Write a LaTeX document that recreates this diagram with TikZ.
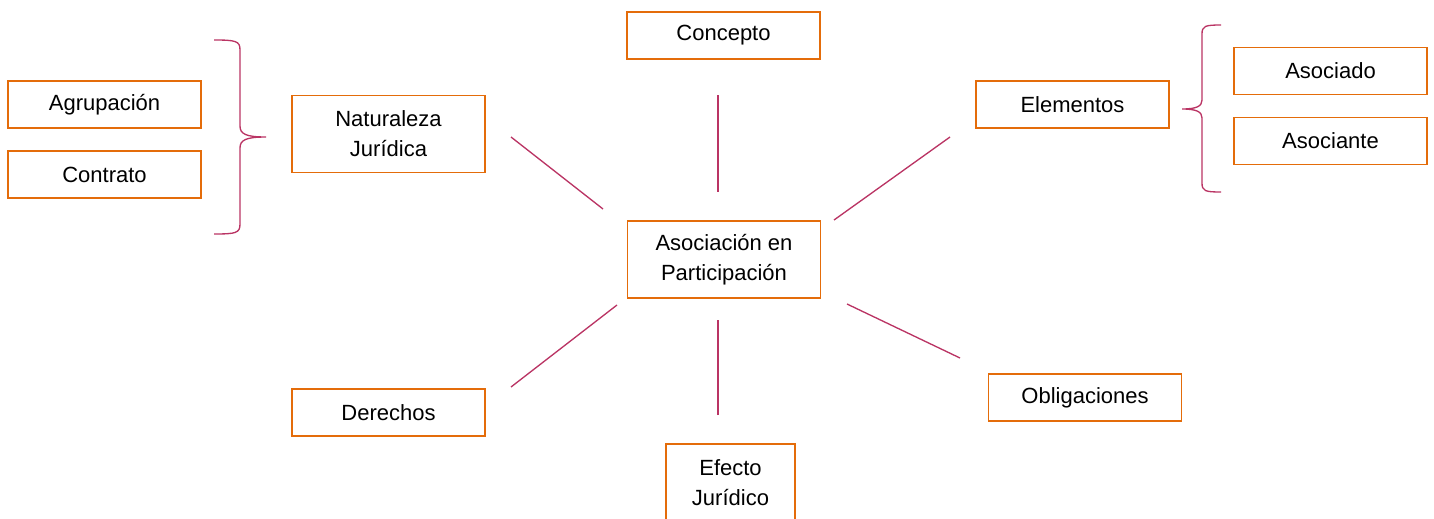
\documentclass[tikz,border=0pt]{standalone}
\usepackage{fontspec}
\setmainfont{Liberation Sans}
\definecolor{boxorange}{RGB}{228,108,10}
\definecolor{linkred}{RGB}{186,52,100}
\tikzstyle{conceptbox}=[draw=boxorange,line width=1.2pt,align=center,minimum width=144.75pt,minimum height=35.25pt,inner sep=0pt,font=\fontsize{16.5}{22.5}\selectfont]
\tikzstyle{tallbox}=[conceptbox,minimum height=57.75pt]
\tikzstyle{link}=[draw=linkred,line width=1pt]
\tikzstyle{bracket}=[draw=linkred,line width=1pt]

\begin{document}
\begin{tikzpicture}[x=0.75pt,y=-0.75pt]
    \clip (0,0) rectangle (1434,518);
    \useasboundingbox (0,0) rectangle (1434,518);

    % Central box and the boxes around it
    \node[tallbox] (asoc) at (724,259.5) {Asociación en\\Participación};
    \node[conceptbox] (concepto) at (723.5,35.5) {Concepto};
    \node[tallbox] (naturaleza) at (388.5,134) {Naturaleza\\Jurídica};
    \node[conceptbox] (elementos) at (1072.5,104.5) {Elementos};
    \node[conceptbox] (derechos) at (388.5,412.5) {Derechos};
    \node[conceptbox] (obligaciones) at (1085,397.5) {Obligaciones};
    \node[tallbox,minimum width=96.75pt] (efecto) at (730.5,482.5) {Efecto\\Jurídico};

    % Boxes behind the braces
    \node[conceptbox] (agrupacion) at (104.5,104.5) {Agrupación};
    \node[conceptbox] (contrato) at (104.5,174.5) {Contrato};
    \node[conceptbox] (asociado) at (1330.5,71) {Asociado};
    \node[conceptbox] (asociante) at (1330.5,141) {Asociante};

    % Loose ends of the spokes
    \coordinate (naturalezaA) at (511,137);
    \coordinate (naturalezaB) at (603,209);
    \coordinate (conceptoA) at (718,95);
    \coordinate (conceptoB) at (718,192);
    \coordinate (elementosA) at (950,137);
    \coordinate (elementosB) at (834,220);
    \coordinate (derechosA) at (511,387);
    \coordinate (derechosB) at (617,305);
    \coordinate (efectoA) at (718,415);
    \coordinate (efectoB) at (718,320);
    \coordinate (obligacionesA) at (960,358);
    \coordinate (obligacionesB) at (847,304);

    \draw[link] (naturalezaA) -- (naturalezaB);
    \draw[link] (conceptoA) -- (conceptoB);
    \draw[link] (elementosA) -- (elementosB);
    \draw[link] (derechosA) -- (derechosB);
    \draw[link] (efectoA) -- (efectoB);
    \draw[link] (obligacionesA) -- (obligacionesB);

    % Braces
    \draw[bracket] (214,40) .. controls (236,40) and (240,41) .. (240,50)
        -- (240,126) .. controls (240,134) and (246,137) .. (266,137)
        .. controls (246,137) and (240,140) .. (240,148)
        -- (240,224) .. controls (240,233) and (236,234) .. (214,234);
    \draw[bracket] (1221,25) .. controls (1205,25) and (1202,26) .. (1202,34)
        -- (1202,100) .. controls (1202,106) and (1197,109) .. (1182,109)
        .. controls (1197,109) and (1202,112) .. (1202,118)
        -- (1202,183) .. controls (1202,191) and (1205,192) .. (1221,192);
\end{tikzpicture}
\end{document}
